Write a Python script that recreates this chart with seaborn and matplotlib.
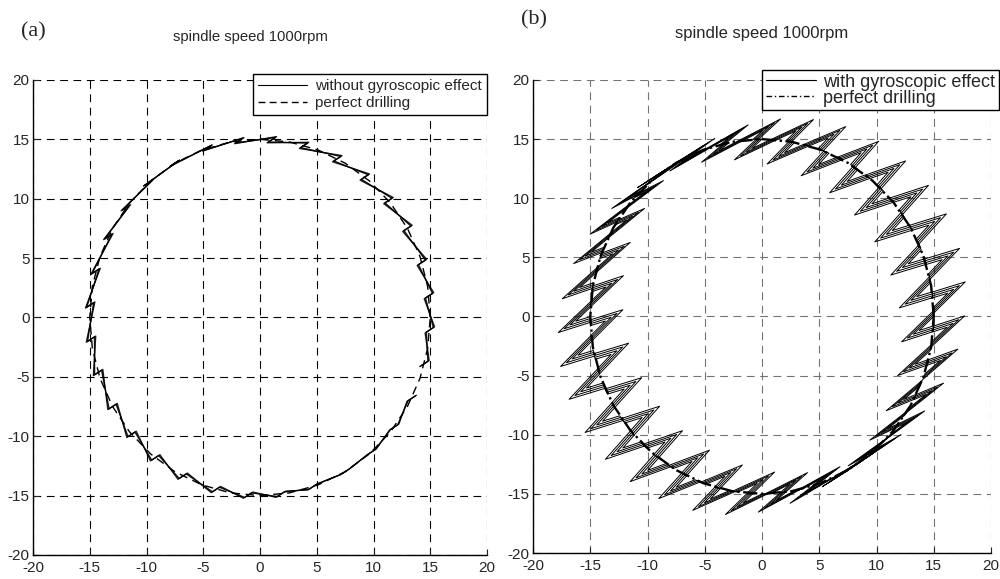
import numpy as np
import pandas as pd
import matplotlib
matplotlib.use("Agg")
import matplotlib.pyplot as plt
from matplotlib.lines import Line2D
import seaborn as sns

# nominal hole radius and the angles (deg) where the tool path kicks sideways
radius = 15.0
spike_deg = [-15, -4, 7, 18, 30, 41, 52, 63, 75, 86, 97, 108, 120, 131, 142, 153,
             165, 176, 187, 198, 210, 221, 232, 243, 255, 266, 277, 288, 300, 311, 322, 333]
spike_dir_deg = 32                 # direction of the kicks
amp_a = [0.5, 0.42, 0.35]          # (a) without gyroscopic effect, one per revolution
amp_b = [3.3, 2.7, 2.1, 1.5]       # (b) with gyroscopic effect, one per revolution
kick_sep_deg = 5.0                 # (b) angle between the outward and the inward kick
kick_half_deg = 3.4                # (b) half base width of the outer kick, degrees
circle_deg = [0, 10, 20, 30, 40, 50, 60, 70, 80, 90, 100, 110, 120, 130, 140, 150, 160, 170, 180,
              190, 200, 210, 220, 230, 240, 250, 260, 270, 280, 290, 300, 310, 320, 330, 340, 350, 360]
ticks = [-20, -15, -10, -5, 0, 5, 10, 15, 20]

d = np.deg2rad(spike_dir_deg)
dx, dy = np.cos(d), np.sin(d)


def on_circle(deg):
    t = np.deg2rad(deg)
    return radius * np.cos(t), radius * np.sin(t)


def zigzag_path(amps):
    rows = []
    for k, a in enumerate(amps):
        for t in spike_deg:
            cx, cy = on_circle(t)
            rows.append((k, cx - a * dx, cy - a * dy))
            rows.append((k, cx + a * dx, cy + a * dy))
    return pd.DataFrame(rows, columns=["strand", "x", "y"])


def kick_path(amps):
    # each kick: a V out along +d, then a V out along -d; inner revolutions give nested V's
    rows = []
    for k, a in enumerate(amps):
        h = kick_half_deg * a / amps[0]
        for t in spike_deg:
            tp, tq = t - kick_sep_deg / 2, t + kick_sep_deg / 2
            xp, yp = on_circle(tp)
            xq, yq = on_circle(tq)
            pts = [on_circle(tp - h), (xp + a * dx, yp + a * dy), on_circle(tp + h),
                   on_circle(tq - h), (xq - a * dx, yq - a * dy), on_circle(tq + h)]
            rows += [(k, px, py) for px, py in pts]
    return pd.DataFrame(rows, columns=["strand", "x", "y"])


cx, cy = on_circle(np.array(circle_deg))
perfect = pd.DataFrame({"x": cx, "y": cy})
path_a = zigzag_path(amp_a)
path_b = kick_path(amp_b)

sns.set_style("white")
plt.rcParams["font.family"] = ["Liberation Sans", "DejaVu Sans"]
plt.rcParams["axes.unicode_minus"] = False

fig = plt.figure(figsize=(10, 5.79), dpi=100)
ax_a = fig.add_axes([0.033, 0.0415, 0.454, 0.8205])
ax_b = fig.add_axes([0.533, 0.0449, 0.458, 0.817])

# (a)
for k in range(len(amp_a)):
    sns.lineplot(data=path_a[path_a.strand == k], x="x", y="y", sort=False, estimator=None,
                 color="k", lw=0.9, alpha=0.8, ax=ax_a, legend=False)
sns.lineplot(data=perfect, x="x", y="y", sort=False, estimator=None, color="k",
             lw=1.0, linestyle=(0, (6, 4)), ax=ax_a, legend=False)

# (b)
for k in range(len(amp_b)):
    sns.lineplot(data=path_b[path_b.strand == k], x="x", y="y", sort=False, estimator=None,
                 color="k", lw=0.7, ax=ax_b, legend=False)
sns.lineplot(data=perfect, x="x", y="y", sort=False, estimator=None, color="k",
             lw=1.7, linestyle=(0, (6, 1.5, 1, 1.5)), ax=ax_b, legend=False)

for ax, gcol in [(ax_a, "k"), (ax_b, "0.45")]:
    ax.set_xlim(-20, 20)
    ax.set_ylim(-20, 20)
    ax.set_xticks(ticks)
    ax.set_yticks(ticks)
    ax.set_xlabel("")
    ax.set_ylabel("")
    ax.grid(True, color=gcol, linestyle=(0, (7, 5)), lw=0.8)
    ax.spines["top"].set_visible(False)
    ax.spines["right"].set_visible(False)
    for s in ["left", "bottom"]:
        ax.spines[s].set_color("k")
        ax.spines[s].set_linewidth(1.0)
    ax.tick_params(direction="in", length=4, width=0.8, labelsize=11, left=True, bottom=True)
    ax.tick_params(axis="x", pad=4.5)
    ax.tick_params(axis="y", pad=2.5)

ax_a.set_title("spindle speed 1000rpm", fontsize=10.7, x=0.48, y=1.0, pad=28)
ax_b.set_title("spindle speed 1000rpm", fontsize=12, x=0.5, y=1.0, pad=30)

fig.text(0.021, 0.945, "(a)", family="Liberation Serif", fontsize=16, va="center")
fig.text(0.521, 0.966, "(b)", family="Liberation Serif", fontsize=16, va="center")

h_a = [Line2D([], [], color="k", lw=0.8),
       Line2D([], [], color="k", lw=1.0, linestyle=(0, (5, 3)))]
leg_a = ax_a.legend(h_a, ["without gyroscopic effect", "perfect drilling"],
                    loc="upper right", bbox_to_anchor=(0.487, 0.873),
                    bbox_transform=fig.transFigure, fontsize=11, handlelength=3.2,
                    labelspacing=0.2, borderpad=0.35, handletextpad=0.5,
                    fancybox=False, framealpha=1, edgecolor="k", borderaxespad=0)
leg_a.get_frame().set_linewidth(1.0)

h_b = [Line2D([], [], color="k", lw=0.8),
       Line2D([], [], color="k", lw=1.0, linestyle=(0, (4, 2, 1, 2)))]
leg_b = ax_b.legend(h_b, ["with gyroscopic effect", "perfect drilling"],
                    loc="upper right", bbox_to_anchor=(0.999, 0.879),
                    bbox_transform=fig.transFigure, fontsize=13, handlelength=2.8,
                    labelspacing=-0.05, borderpad=0.2, handletextpad=0.4,
                    fancybox=False, framealpha=1, edgecolor="k", borderaxespad=0)
leg_b.get_frame().set_linewidth(1.0)

fig.savefig("out.png", dpi=100)
